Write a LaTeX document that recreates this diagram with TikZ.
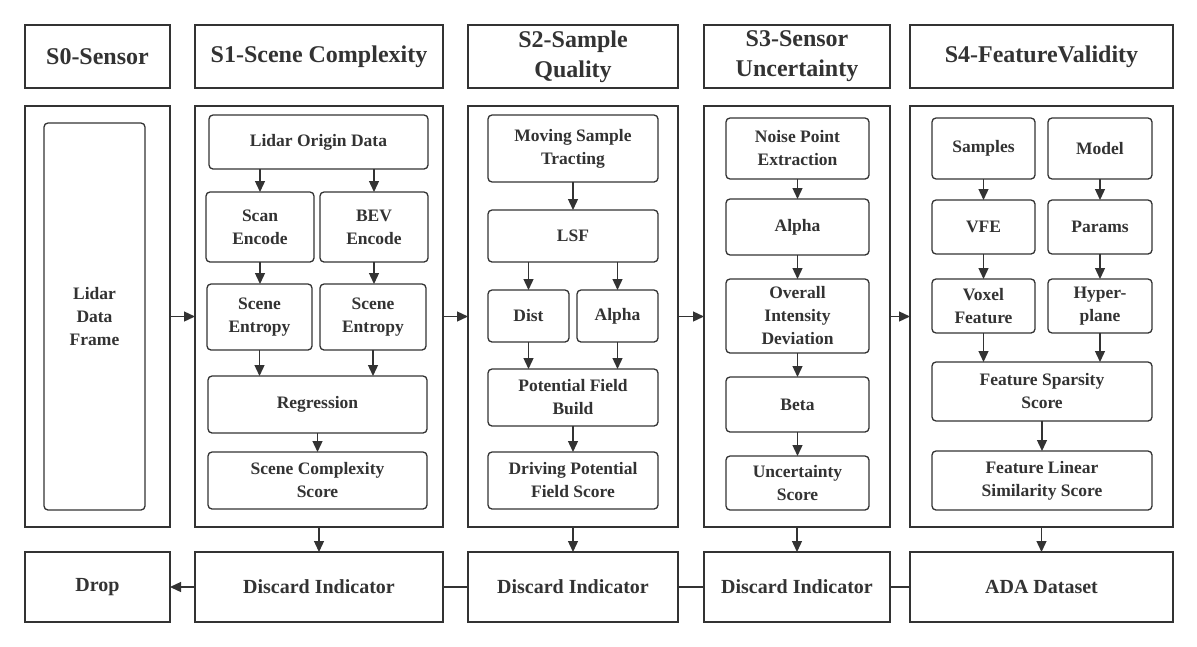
\documentclass[tikz,border=0pt]{standalone}
\usepackage{fontspec}
\setmainfont{Liberation Serif}
\usetikzlibrary{arrows.meta}
\definecolor{ink}{HTML}{333333}
\tikzset{
  sz/.style 2 args={minimum width=#1pt,minimum height=#2pt},
  panel/.style={draw=ink,line width=1.6pt,inner sep=0pt,outer sep=0pt,text=ink,
    font=\fontsize{24}{30}\selectfont\bfseries,align=center},
  lowbox/.style={panel,font=\fontsize{20}{25}\selectfont\bfseries},
  inbox/.style={draw=ink,line width=1.3pt,rounded corners=4pt,inner sep=0pt,outer sep=0pt,
    text=ink,font=\fontsize{17.5}{23}\selectfont\bfseries,align=center},
  arr/.style={draw=ink,line width=1.3pt,-{Triangle[length=11pt,width=10pt]}},
  link/.style={draw=ink,line width=1.3pt}
}
\begin{document}
\begin{tikzpicture}[x=1pt,y=-1pt]
  \useasboundingbox[fill=white] (0,0) rectangle (1197,646);
  % headers
  \node[panel,sz={145}{63}] (h0) at (97.5,56.5) {S0-Sensor};
  \node[panel,sz={248}{63}] (h1) at (319,56.5) {S1-Scene Complexity};
  \node[panel,sz={210}{63}] (h2) at (573,56.5) {S2-Sample\\Quality};
  \node[panel,sz={186}{63}] (h3) at (797,56.5) {S3-Sensor\\Uncertainty};
  \node[panel,sz={263}{63}] (h4) at (1041.5,56.5) {S4-FeatureValidity};
  % panels
  \node[panel,sz={145}{421}] (p0) at (97.5,316.5) {};
  \node[panel,sz={248}{421}] (p1) at (319,316.5) {};
  \node[panel,sz={210}{421}] (p2) at (573,316.5) {};
  \node[panel,sz={186}{421}] (p3) at (797,316.5) {};
  \node[panel,sz={263}{421}] (p4) at (1041.5,316.5) {};
  % bottom row
  \node[lowbox,sz={145}{70}] (b0) at (97.5,587) {Drop};
  \node[lowbox,sz={248}{70}] (b1) at (319,587) {Discard Indicator};
  \node[lowbox,sz={210}{70}] (b2) at (573,587) {Discard Indicator};
  \node[lowbox,sz={186}{70}] (b3) at (797,587) {Discard Indicator};
  \node[lowbox,sz={263}{70}] (b4) at (1041.5,587) {ADA Dataset};
  % S0
  \node[inbox,sz={101}{387}] (ldf) at (94.5,316.5) {Lidar\\Data\\Frame};
  % S1
  \node[inbox,sz={219}{54}] (lod) at (318.5,142) {Lidar Origin Data};
  \node[inbox,sz={108}{70}] (scan) at (260,227) {Scan\\Encode};
  \node[inbox,sz={108}{70}] (bev) at (374,227) {BEV\\Encode};
  \node[inbox,sz={105}{66}] (seL) at (259.5,317) {Scene\\Entropy};
  \node[inbox,sz={106}{66}] (seR) at (373,317) {Scene\\Entropy};
  \node[inbox,sz={219}{57}] (reg) at (317.5,404.5) {Regression};
  \node[inbox,sz={219}{57}] (scs) at (317.5,480.5) {Scene Complexity\\Score};
  % S2
  \node[inbox,sz={170}{67}] (mst) at (573,148.5) {Moving Sample\\Tracting};
  \node[inbox,sz={170}{52}] (lsf) at (573,236) {LSF};
  \node[inbox,sz={81}{52}] (dist) at (528.5,316) {Dist};
  \node[inbox,sz={81}{52}] (alpB) at (617.5,316) {Alpha};
  \node[inbox,sz={170}{57}] (pfb) at (573,397.5) {Potential Field\\Build};
  \node[inbox,sz={170}{57}] (dpfs) at (573,480.5) {Driving Potential\\Field Score};
  % S3
  \node[inbox,sz={143}{61}] (npe) at (797.5,148.5) {Noise Point\\Extraction};
  \node[inbox,sz={143}{56}] (alpC) at (797.5,227) {Alpha};
  \node[inbox,sz={143}{74}] (oid) at (797.5,316) {Overall\\Intensity\\Deviation};
  \node[inbox,sz={143}{55}] (beta) at (797.5,404.5) {Beta};
  \node[inbox,sz={143}{54}] (us) at (797.5,483) {Uncertainty\\Score};
  % S4
  \node[inbox,sz={103}{61}] (smp) at (983.5,148.5) {Samples};
  \node[inbox,sz={104}{61}] (mdl) at (1100,148.5) {Model};
  \node[inbox,sz={103}{54}] (vfe) at (983.5,227) {VFE};
  \node[inbox,sz={104}{54}] (prm) at (1100,227) {Params};
  \node[inbox,sz={103}{54}] (vox) at (983.5,306) {Voxel\\Feature};
  \node[inbox,sz={104}{54}] (hyp) at (1100,306) {Hyper-\\plane};
  \node[inbox,sz={220}{59}] (fss) at (1042,391.5) {Feature Sparsity\\Score};
  \node[inbox,sz={220}{59}] (flss) at (1042,480.5) {Feature Linear\\Similarity Score};
  % stage flow
  \foreach \a/\b in {p0/p1,p1/p2,p2/p3,p3/p4}
    \draw[arr] (\a.east) -- (\b.west);
  \foreach \i in {1,2,3,4}
    \draw[arr] (p\i.south) -- (b\i.north);
  \draw[arr] (b1.west) -- (b0.east);
  \foreach \a/\b in {b1/b2,b2/b3,b3/b4}
    \draw[link] (\a.east) -- (\b.west);
  % inner arrows, split
  \foreach \a/\b in {lod/scan,lod/bev,lsf/dist,lsf/alpB}
    \draw[arr] (\a.south -| \b.north) -- (\b.north);
  % inner arrows, straight down
  \foreach \a/\b in {scan/seL,bev/seR,seL/reg,seR/reg,reg/scs,mst/lsf,dist/pfb,alpB/pfb,pfb/dpfs,
      npe/alpC,alpC/oid,oid/beta,beta/us,smp/vfe,mdl/prm,vfe/vox,prm/hyp,vox/fss,hyp/fss,fss/flss}
    \draw[arr] (\a.south) -- (\a.south |- \b.north);
\end{tikzpicture}
\end{document}
